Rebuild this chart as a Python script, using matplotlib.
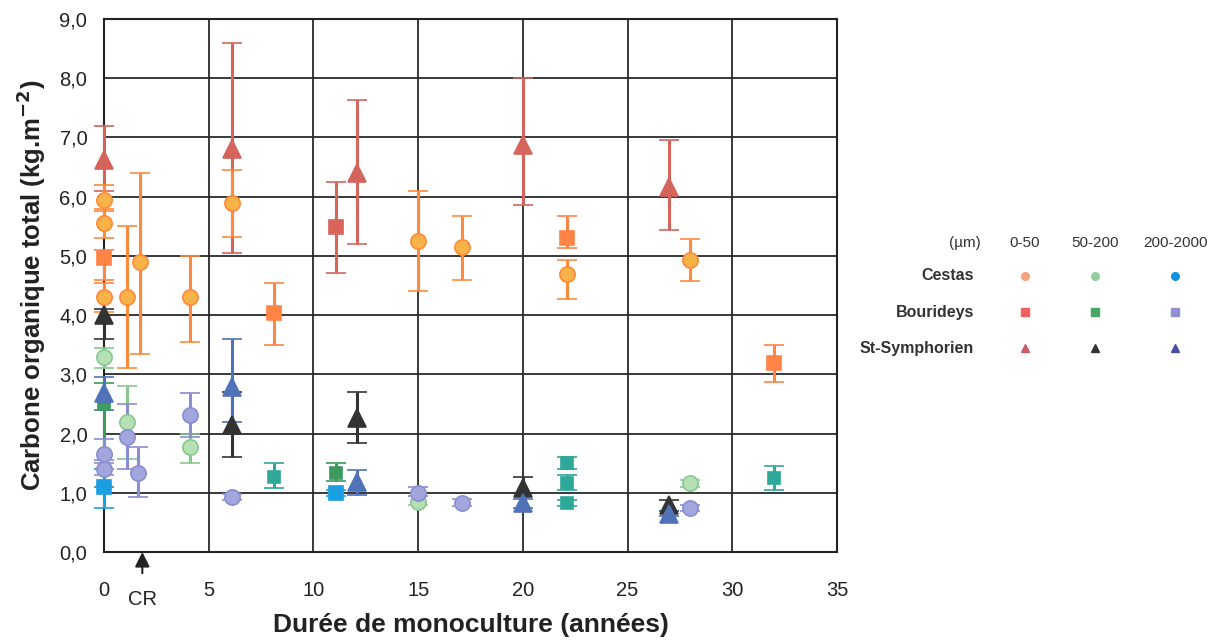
import matplotlib
matplotlib.use("Agg")
import matplotlib.pyplot as plt
from matplotlib.lines import Line2D

plt.rcParams['font.family'] = ['Liberation Sans', 'DejaVu Sans']

# ---------------------------------------------------------------------------
# Data
# ---------------------------------------------------------------------------
# Cestas 0-50 (orange circles)
ces_fin_x = [0, 0, 0, 1.1, 1.7, 4.1, 6.1, 15, 17.1, 22.1, 28]
ces_fin_y = [5.95, 5.55, 4.3, 4.3, 4.9, 4.3, 5.9, 5.25, 5.15, 4.7, 4.93]
ces_fin_lo = [5.75, 5.3, 4.05, 3.1, 3.35, 3.55, 5.32, 4.4, 4.6, 4.27, 4.58]
ces_fin_hi = [6.2, 5.8, 4.55, 5.5, 6.4, 5.0, 6.45, 6.1, 5.68, 4.93, 5.29]

# Bourideys 0-50 (orange squares)
bou_fin_x = [0, 8.1, 22.1, 32]
bou_fin_y = [4.97, 4.03, 5.3, 3.19]
bou_fin_lo = [4.6, 3.5, 5.13, 2.87]
bou_fin_hi = [5.1, 4.54, 5.68, 3.5]

# Bourideys 0-50 (red square)
bou_red_x = [11.1]
bou_red_y = [5.49]
bou_red_lo = [4.71]
bou_red_hi = [6.25]

# St-Symphorien 0-50 (red triangles)
sym_fin_x = [0, 6.1, 12.1, 20, 27]
sym_fin_y = [6.62, 6.8, 6.4, 6.88, 6.17]
sym_fin_lo = [6.1, 5.05, 5.2, 5.86, 5.44]
sym_fin_hi = [7.2, 8.6, 7.63, 8.0, 6.96]

# Cestas 50-200 (pale green circles)
ces_mid_x = [0, 1.1, 4.1, 15, 28]
ces_mid_y = [3.3, 2.2, 1.77, 0.85, 1.17]
ces_mid_lo = [3.1, 1.57, 1.5, 0.8, 1.1]
ces_mid_hi = [3.45, 2.8, 2.0, 0.95, 1.22]

# Bourideys 50-200 (green squares)
bou_mid_x = [0, 11.1]
bou_mid_y = [2.5, 1.33]
bou_mid_lo = [1.1, 1.2]
bou_mid_hi = [2.85, 1.5]

# Bourideys 50-200 (teal squares)
bou_teal_x = [8.1, 22.1, 22.1, 22.1, 32]
bou_teal_y = [1.27, 1.5, 1.17, 0.83, 1.25]
bou_teal_lo = [1.08, 1.4, 1.05, 0.78, 1.05]
bou_teal_hi = [1.5, 1.6, 1.3, 0.88, 1.45]

# St-Symphorien 50-200 (black triangles)
sym_mid_x = [0, 6.1, 12.1, 20, 27]
sym_mid_y = [4.0, 2.15, 2.26, 1.08, 0.8]
sym_mid_lo = [3.6, 1.6, 1.84, 1.0, 0.7]
sym_mid_hi = [4.1, 2.7, 2.7, 1.27, 0.88]

# Cestas 200-2000 (cyan squares)
ces_big_x = [0, 11.1]
ces_big_y = [1.1, 1.0]
ces_big_lo = [0.74, 0.95]
ces_big_hi = [1.4, 1.05]

# Bourideys 200-2000 (lavender)
bou_big_x = [0, 0, 1.1, 1.6, 4.1, 6.1, 15, 17.1, 28]
bou_big_y = [1.65, 1.4, 1.95, 1.33, 2.31, 0.93, 1.0, 0.82, 0.75]
bou_big_lo = [1.55, 1.3, 1.4, 0.93, 1.95, 0.88, 0.95, 0.78, 0.7]
bou_big_hi = [1.9, 1.5, 2.5, 1.77, 2.69, 0.98, 1.1, 0.9, 0.8]

# St-Symphorien 200-2000 (blue triangles)
sym_big_x = [0, 6.1, 12.1, 20, 27]
sym_big_y = [2.68, 2.79, 1.18, 0.82, 0.65]
sym_big_lo = [2.4, 2.2, 0.96, 0.75, 0.6]
sym_big_hi = [2.95, 3.6, 1.38, 0.9, 0.7]

x_ticks = [0, 5, 10, 15, 20, 25, 30, 35]
y_ticks = [0, 1, 2, 3, 4, 5, 6, 7, 8, 9]

legend_sizes = ["(µm)", "0-50", "50-200", "200-2000"]
legend_sites = ["Cestas", "Bourideys", "St-Symphorien"]


def draw(ax, x, y, lo, hi, marker, face, bar, ms=11, z=3):
    yerr = [[yy - l for yy, l in zip(y, lo)], [h - yy for yy, h in zip(y, hi)]]
    eb = ax.errorbar(x, y, yerr=yerr, fmt=marker, ms=ms, mfc=face, mec=bar,
                     mew=1.2, ecolor=bar, elinewidth=2.2, capsize=7,
                     capthick=2.2, zorder=z)
    arts = [eb.lines[0]] + list(eb.lines[1]) + list(eb.lines[2])
    for art in arts:
        art.set_clip_on(False)


fig = plt.figure(figsize=(12.16, 6.43), dpi=100)
ax = fig.add_axes([104 / 1216, 91 / 643, 733 / 1216, 533 / 643])

draw(ax, sym_fin_x, sym_fin_y, sym_fin_lo, sym_fin_hi, "^", "#d4645c", "#d4645c", ms=13)
draw(ax, bou_red_x, bou_red_y, bou_red_lo, bou_red_hi, "s", "#d8645a", "#d8645a", ms=10)
draw(ax, ces_fin_x, ces_fin_y, ces_fin_lo, ces_fin_hi, "o", "#f7b347", "#ff8a3c", ms=11)
draw(ax, bou_fin_x, bou_fin_y, bou_fin_lo, bou_fin_hi, "s", "#ff8446", "#ff8446", ms=10)
draw(ax, ces_mid_x, ces_mid_y, ces_mid_lo, ces_mid_hi, "o", "#b5dfb4", "#88c890", ms=11)
draw(ax, bou_mid_x, bou_mid_y, bou_mid_lo, bou_mid_hi, "s", "#3c9a5e", "#3c9a5e", ms=9)
draw(ax, bou_teal_x, bou_teal_y, bou_teal_lo, bou_teal_hi, "s", "#2ea898", "#2ea898", ms=9)
draw(ax, sym_mid_x, sym_mid_y, sym_mid_lo, sym_mid_hi, "^", "#333333", "#333333", ms=13)
draw(ax, sym_big_x, sym_big_y, sym_big_lo, sym_big_hi, "^", "#5072b8", "#5072b8", ms=13)
draw(ax, bou_big_x, bou_big_y, bou_big_lo, bou_big_hi, "o", "#a2a6dc", "#8a8ed0", ms=11)
draw(ax, ces_big_x, ces_big_y, ces_big_lo, ces_big_hi, "s", "#1a9fe0", "#1a9fe0", ms=10)

ax.set_xlim(0, 35)
ax.set_ylim(0, 9)
ax.set_xticks(x_ticks)
ax.set_yticks(y_ticks)
ax.set_yticklabels([f"{v:.1f}".replace(".", ",") for v in y_ticks])
ax.tick_params(length=0, labelsize=14.5, colors="#222222")
ax.tick_params(axis="x", pad=21)
ax.tick_params(axis="y", pad=12)
ax.grid(True, color="#2a2a2a", linewidth=1.3)
ax.set_axisbelow(True)
for s in ax.spines.values():
    s.set_color("#222222")
    s.set_linewidth(1.5)

ax.set_ylabel("Carbone organique total (kg.m$^{\\mathbf{-2}}$)", fontsize=18.5,
              fontweight="bold", color="#222222", labelpad=8)
ax.set_xlabel("Durée de monoculture (années)", fontsize=19,
              fontweight="bold", color="#222222", labelpad=9)

# CR marker below the axis
ax.annotate("CR", xy=(1.83, 0), xytext=(1.83, -0.8), textcoords="data",
            ha="center", va="center", fontsize=14.5, color="#222222",
            annotation_clip=False,
            arrowprops=dict(arrowstyle="-|>", color="#222222", lw=1.5,
                            mutation_scale=22, shrinkA=10, shrinkB=0))

# Custom legend grid
col_x = [965 / 1216, 1025 / 1216, 1095 / 1216, 1175 / 1216]
row_y = [1 - 243 / 643, 1 - 276 / 643, 1 - 312 / 643, 1 - 348 / 643]
for cx, lab in zip(col_x, legend_sizes):
    fig.text(cx, row_y[0], lab, ha="center", va="center", fontsize=11, color="#333333")
for ry, lab in zip(row_y[1:], legend_sites):
    fig.text(974 / 1216, ry, lab, ha="right", va="center", fontsize=11.5,
             fontweight="bold", color="#333333")

leg_markers = [["o", "s", "^"], ["o", "s", "^"], ["o", "s", "^"]]
leg_colors = [["#f7a07e", "#f06060", "#c85a6a"],
              ["#8fd0a0", "#4aa468", "#333333"],
              ["#1090e0", "#9090d0", "#4a50a0"]]
for ci in range(3):
    for ri in range(3):
        fig.add_artist(Line2D([col_x[ci + 1]], [row_y[ri + 1]],
                              marker=leg_markers[ci][ri], ms=5.5,
                              color=leg_colors[ci][ri], linestyle="none",
                              transform=fig.transFigure))

fig.savefig("out.png", dpi=100)
